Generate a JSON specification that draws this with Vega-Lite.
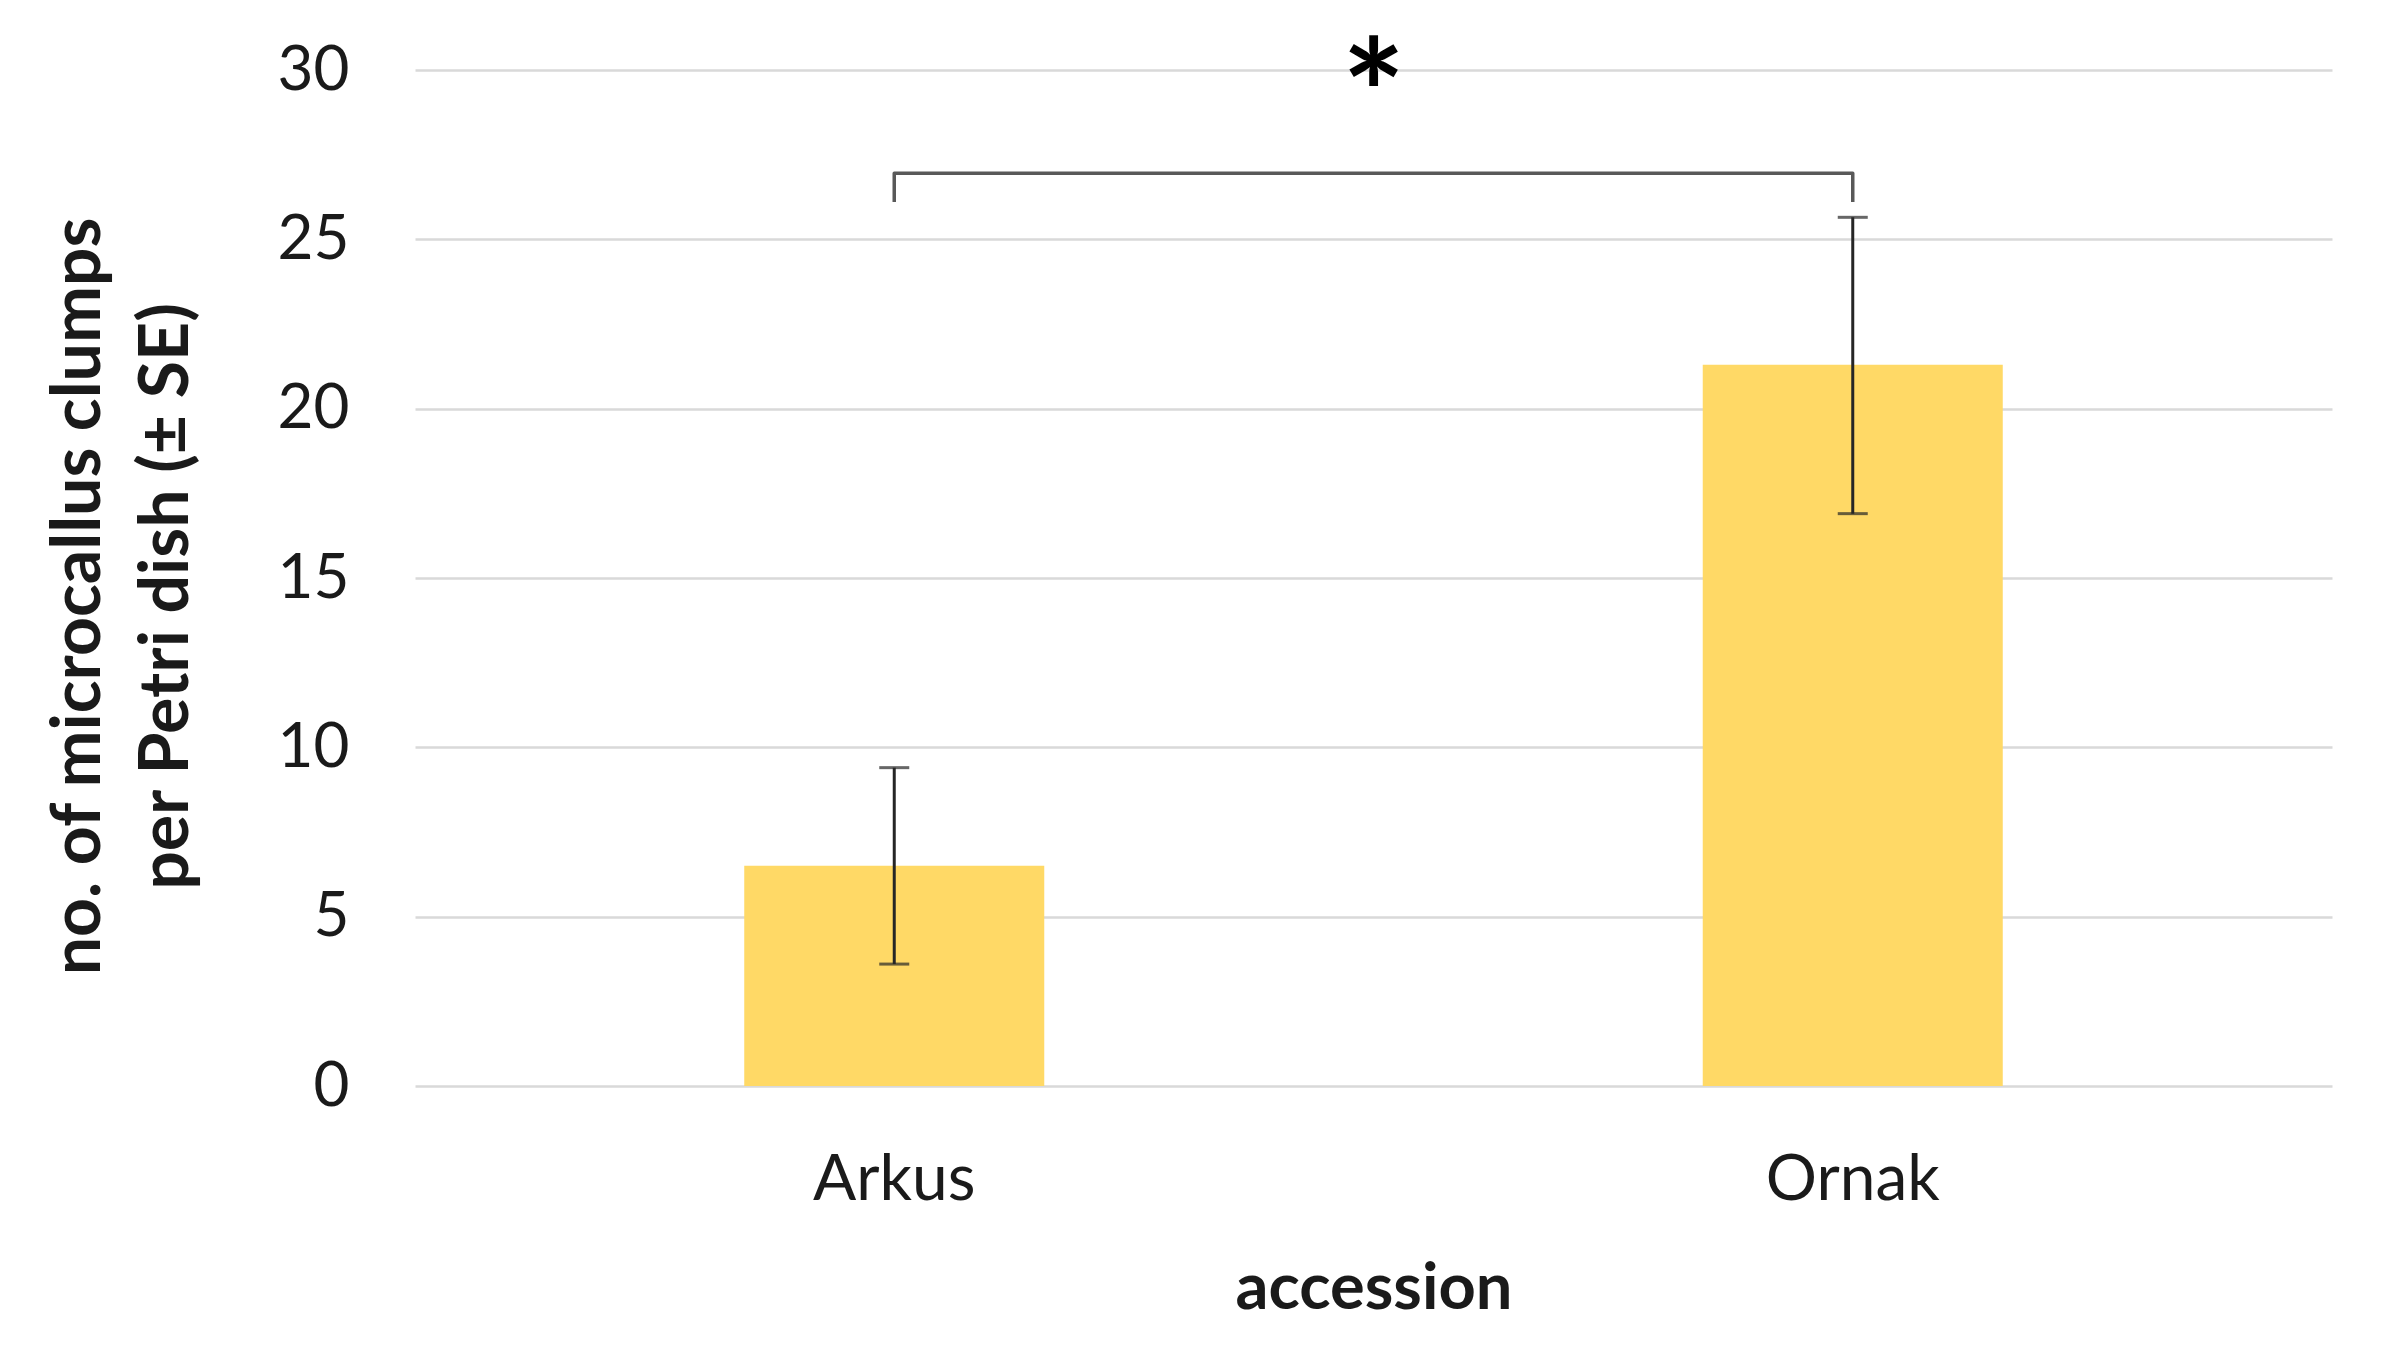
{
  "$schema": "https://vega.github.io/schema/vega-lite/v6.json",
  "autosize": {"type": "none"},
  "width": 1917,
  "height": 1016,
  "padding": {"left": 415, "top": 70, "right": 61, "bottom": 260},
  "background": "white",
  "config": {
    "font": "Lato",
    "view": {"stroke": null},
    "axis": {"labelFont": "Lato", "titleFont": "Lato", "labelColor": "#1a1a1a", "titleColor": "#1a1a1a"}
  },
  "datasets": {
    "bars": [
      {"accession": "Arkus", "mean": 6.5, "lo": 3.6, "hi": 9.4},
      {"accession": "Ornak", "mean": 21.3, "lo": 16.9, "hi": 25.65}
    ],
    "bracket": [
      {"accession": "Arkus", "y": 26.1, "o": 1},
      {"accession": "Arkus", "y": 26.95, "o": 2},
      {"accession": "Ornak", "y": 26.95, "o": 3},
      {"accession": "Ornak", "y": 26.1, "o": 4}
    ],
    "star": [{"label": "*", "y": 29.0}]
  },
  "layer": [
    {
      "data": {"name": "bars"},
      "mark": {"type": "bar", "color": "#FFD966", "width": {"band": 0.313}},
      "encoding": {
        "x": {
          "field": "accession",
          "type": "nominal",
          "sort": ["Arkus", "Ornak"],
          "scale": {"domain": ["Arkus", "Ornak"], "paddingInner": 0, "paddingOuter": 0},
          "axis": {
            "title": "accession",
            "labelAngle": 0,
            "labelFontSize": 64,
            "labelPadding": 62,
            "ticks": false,
            "domain": false,
            "titleFontSize": 65,
            "titleFontWeight": "bold",
            "titlePadding": 45
          }
        },
        "y": {
          "field": "mean",
          "type": "quantitative",
          "scale": {"domain": [0, 30], "nice": false},
          "axis": {
            "title": ["no. of microcallus clumps", "per Petri dish (± SE)"],
            "values": [0, 5, 10, 15, 20, 25, 30],
            "labelFontSize": 62,
            "labelPadding": 66,
            "ticks": false,
            "domain": false,
            "grid": true,
            "gridColor": "#d9d9d9",
            "gridWidth": 2.5,
            "titleFontSize": 68,
            "titleFontWeight": "bold",
            "titleLineHeight": 88,
            "titlePadding": 76,
            "titleY": 526
          }
        }
      }
    },
    {
      "data": {"name": "bars"},
      "mark": {"type": "rule", "color": "#262626", "strokeWidth": 3},
      "encoding": {
        "x": {"field": "accession", "type": "nominal"},
        "y": {"field": "lo", "type": "quantitative"},
        "y2": {"field": "hi"}
      }
    },
    {
      "data": {"name": "bars"},
      "mark": {"type": "tick", "color": "#262626", "size": 30, "thickness": 3, "orient": "horizontal"},
      "encoding": {
        "x": {"field": "accession", "type": "nominal"},
        "y": {"field": "lo", "type": "quantitative"}
      }
    },
    {
      "data": {"name": "bars"},
      "mark": {"type": "tick", "color": "#262626", "size": 30, "thickness": 3, "orient": "horizontal"},
      "encoding": {
        "x": {"field": "accession", "type": "nominal"},
        "y": {"field": "hi", "type": "quantitative"}
      }
    },
    {
      "data": {"name": "bracket"},
      "mark": {"type": "line", "color": "#595959", "strokeWidth": 3.5, "strokeJoin": "round"},
      "encoding": {
        "x": {"field": "accession", "type": "nominal"},
        "y": {"field": "y", "type": "quantitative"},
        "order": {"field": "o", "type": "quantitative"}
      }
    },
    {
      "data": {"name": "star"},
      "mark": {"type": "text", "fontSize": 150, "fontWeight": "bold", "color": "#000000", "baseline": "middle", "align": "center", "font": "Lato"},
      "encoding": {
        "y": {"field": "y", "type": "quantitative"},
        "text": {"field": "label"}
      }
    }
  ]
}
